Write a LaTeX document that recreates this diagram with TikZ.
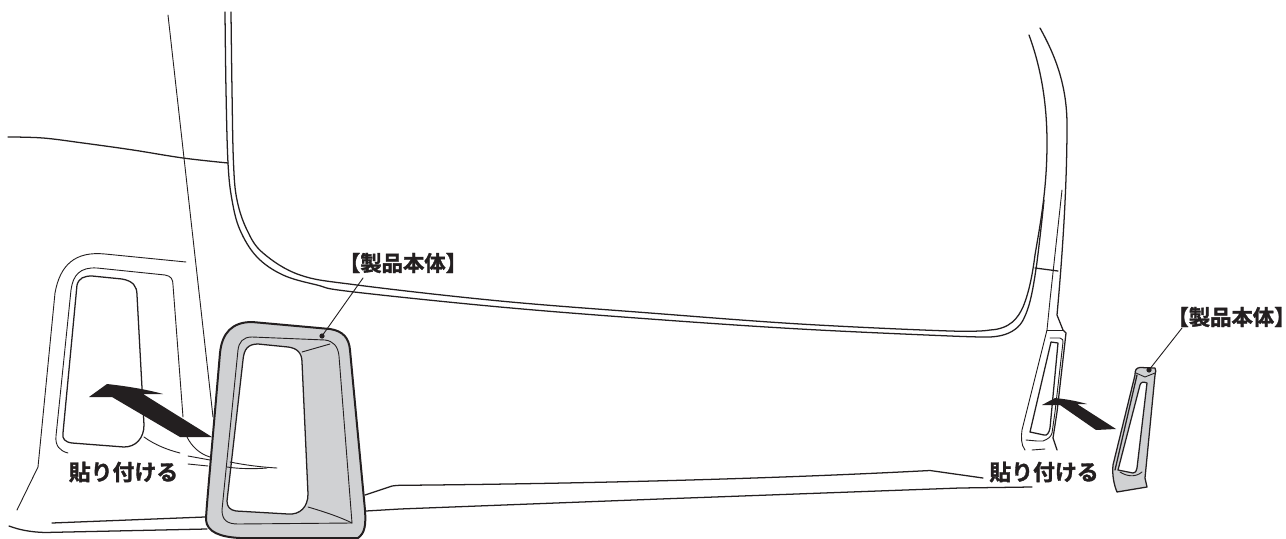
\documentclass[tikz,border=0pt]{standalone}
\usepackage{fontspec}
\newfontfamily\jpfont[FakeBold=1.6]{Noto Sans CJK JP Bold}
\definecolor{panel}{HTML}{D0D1D3}
\definecolor{ink}{HTML}{231F20}
\tikzset{
  thin line/.style={draw=ink,line width=.68pt,line cap=round,line join=round},
  main line/.style={draw=ink,line width=.95pt,line cap=round,line join=round},
  edge line/.style={draw=ink,line width=1.5pt,line join=round},
  lab/.style={font=\jpfont\fontsize{16}{16}\selectfont,text=ink,inner sep=0pt},
  lab2/.style={font=\jpfont\fontsize{16.4}{16.4}\selectfont,text=ink,inner sep=0pt},
  smo/.style={smooth,tension=.6}
}
\newcommand{\prodlabel}{\hbox{\kern-.6em【製品本体】\kern-.6em}}
\begin{document}
\begin{tikzpicture}[x=.75pt,y=-.75pt]
\useasboundingbox (0,0) rectangle (1286,539);
\fill[white] (0,0) rectangle (1286,539);
% window opening, double line
\draw[main line] plot[smo] coordinates {(225,12) (226,90) (228,163) (232,200) (240,230) (257,257) (283,275) (317,285) (350,291.5) (500,307) (650,319) (800,329) (950,336) (990,337)} .. controls (1010,336) and (1018,328) .. (1022,322) .. controls (1030,308) and (1033,290) .. (1037,262) .. controls (1040,238) and (1042,220) .. (1044,200);
\draw[main line] plot[smo] coordinates {(231,12) (232,90) (233.5,163) (237,200) (247,230) (263,253) (300,275) (357,285) (500,301) (650,313) (800,324) (950,331) (990,330)} .. controls (1010,329) and (1018,318) .. (1023,307) .. controls (1030,290) and (1033,270) .. (1035,255) .. controls (1040,225) and (1047,190) .. (1047,143) .. controls (1047,100) and (1040,65) .. (1029,35);
\draw[main line] (1040,28) .. controls (1055,55) and (1067,85) .. (1067,125) .. controls (1067,190) and (1062,260) .. (1057,315) -- (1063,330) -- (1066,333) -- (1057,412) -- (1053,438) -- (1057,450);
\draw[thin line] (1062,190) -- (1050,300) -- (1047,330) -- (1022,430) .. controls (1021,437) and (1021,445) .. (1025,450);
\draw[thin line] (1047,330) -- (1063,330);
\draw[thin line] (1032,450) -- (1045,449);
\draw[main line] (1035,268) -- (1058,271);
\draw[main line] (1051,342) -- (1058,343) -- (1050,428) .. controls (1049,433) and (1047,436) .. (1044,435) -- (1030,432) -- cycle;
\draw[thin line] (1050,338) -- (1060,338) .. controls (1063,339) and (1063,340) .. (1063,342) -- (1055,412) -- (1052,433) .. controls (1051,437) and (1048,439) .. (1043,441) -- (1037,441) -- (1026,440);
% left body
\draw[thin line] (168,15) -- (213,417);
\draw[main line] plot[smo] coordinates {(8,137) (43,138) (83,143) (133,150) (183,158) (228,163)};
\draw[thin line] (186,262) -- (105,254) .. controls (75,251) and (60,265) .. (55,293) -- (38,467) -- (17,510);
\draw[thin line] (68,453) .. controls (60,451) and (55,446) .. (56,436) -- (71,290) .. controls (73,275) and (80,267) .. (97,268) -- (165,275) .. controls (171,276) and (173,279) .. (173,285) -- (183,417);
\draw[main line] (77,285) .. controls (79,278) and (84,276) .. (92,276) -- (122,279) .. controls (133,281) and (137,286) .. (137,295) -- (144,425) .. controls (144,438) and (136,447) .. (124,447) -- (72,443) .. controls (65,442) and (62,439) .. (63,433) -- cycle;
\draw[thin line] (144,437) .. controls (155,445) and (168,450) .. (180,453);
\draw[thin line] (187,437) .. controls (192,447) and (200,454) .. (210,457);
\draw[thin line] (188,456) -- (210,460);
\draw[thin line] (188,464) -- (208,466);
\draw[main line] (52,523) -- (205,517);
\draw[main line] (9,526) .. controls (20,530) and (30,532) .. (45,532.5) -- (207,529);
% sill
\draw[main line] (365,495) -- (392,486) .. controls (395,485.5) and (398,485.3) .. (402,485.3) .. controls (550,484) and (750,480) .. (930,470.5) -- (983,478);
\draw[main line] (366,511) -- (400,509) -- (660,499) -- (960,488) -- (1032,487);
% left arrow
\fill[ink] (89,397) -- (107,384) .. controls (125,386) and (145,389) .. (163,394) -- (143,394) -- (212,437) -- (180,437) -- (112,397) -- cycle;
% left product
\draw[edge line,fill=panel] (220,353) .. controls (222,333) and (232,322) .. (252,322) -- (330,329) .. controls (343,331) and (349,338) .. (350,350) -- (365,510) .. controls (366,525) and (365,533) .. (358,538) -- (240,538) .. controls (220,537) and (207,532) .. (206,520) .. controls (206,512) and (210,470) .. cycle;
\draw[thin line] (238,350) .. controls (239,342) and (243,337) .. (252,337) -- (325,340) .. controls (333,341) and (338,346) .. (339,356) -- (352,523) -- (238,524) .. controls (227,524) and (222,520) .. (222,510) -- cycle;
\draw[main line,fill=white] (243,360) .. controls (244,349) and (248,344) .. (258,344) -- (288,347) .. controls (297,348) and (302,353) .. (302,362) -- (308,494) .. controls (308,507) and (300,515) .. (288,514) -- (236,511) .. controls (230,510) and (227,507) .. (227,501) -- cycle;
\draw[thin line] (302,352) -- (330,344);
\draw[thin line] (308,507) .. controls (325,512) and (340,517) .. (352,523);
\draw[thin line] (230,462) .. controls (245,465) and (260,467) .. (277,468);
\draw[thin line] (227,467) .. controls (240,469) and (255,469) .. (267,468);
\fill[ink] (322,336) circle (2.6);
% right arrow
\fill[ink] (1042,405) -- (1055,398) .. controls (1065,399) and (1077,401) .. (1087,404) -- (1077,404) -- (1116,429) -- (1096,430) -- (1060,405) -- cycle;
% right product
\draw[main line,fill=panel] (1135,375) .. controls (1135,370) and (1136,368) .. (1140,367.5) -- (1155,368) .. controls (1156,370) and (1156,372) .. (1155,375) -- (1145,478) -- (1147,487) -- (1117,492) .. controls (1114,485) and (1112,475) .. (1113,465) -- cycle;
\draw[main line] (1137,375) -- (1115,470);
\draw[thin line] (1136,373) -- (1145,377) -- (1155,373);
\draw[main line,fill=white] (1140,385) .. controls (1141,382) and (1143,381.5) .. (1147,383) -- (1137,468) .. controls (1136,472) and (1135,473) .. (1133,473) -- (1118,470) -- cycle;
\draw[thin line] (1120,472) .. controls (1126,476) and (1135,478) .. (1142,472);
\fill[ink] (1149,370) circle (2.6);
% labels
\node[lab] (pl) at (403,263) {\prodlabel};
\node[lab] (pr) at (1231.5,317) {\prodlabel};
\node[lab2] (gl) at (123.5,472) {貼り付ける};
\node[lab2] (gr) at (1044,472) {貼り付ける};
\coordinate (dl) at (322,336);
\coordinate (dr) at (1149,370);
\draw[thin line] (363,278) -- (dl);
\draw[thin line] (1182,328) -- (dr);
\end{tikzpicture}
\end{document}
